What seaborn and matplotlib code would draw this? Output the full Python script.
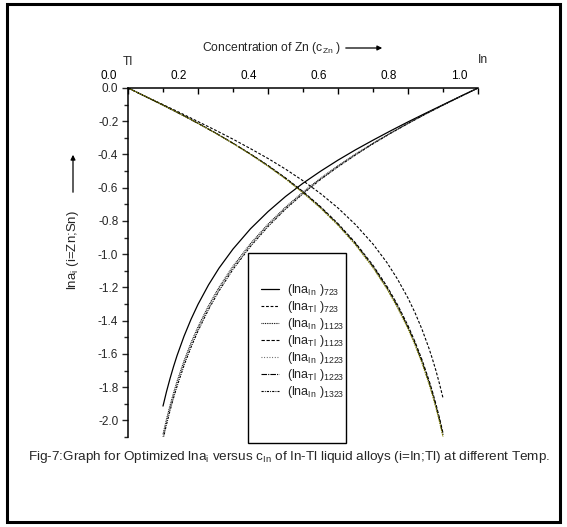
import numpy as np
import pandas as pd
import matplotlib
matplotlib.use("Agg")
import matplotlib.pyplot as plt
import matplotlib.transforms as mtransforms
from matplotlib.patches import Rectangle, FancyArrowPatch
from matplotlib.ticker import MultipleLocator
import seaborn as sns

# ---------------- data ----------------
c_in_In = [0.10, 0.11, 0.12, 0.13, 0.14, 0.16, 0.18, 0.20, 0.23, 0.26, 0.30, 0.35, 0.40,
           0.45, 0.50, 0.55, 0.60, 0.65, 0.70, 0.75, 0.80, 0.85, 0.90, 0.95, 1.00]
lna_In_723 = [-1.914, -1.827, -1.749, -1.677, -1.611, -1.494, -1.392, -1.302, -1.185, -1.084,
              -0.969, -0.847, -0.744, -0.653, -0.573, -0.501, -0.434, -0.372, -0.314, -0.258,
              -0.204, -0.152, -0.101, -0.050, 0.000]
lna_In_1123 = [-2.084, -1.993, -1.911, -1.836, -1.766, -1.642, -1.533, -1.437, -1.310, -1.199,
               -1.072, -0.936, -0.819, -0.717, -0.626, -0.543, -0.468, -0.398, -0.332, -0.271,
               -0.212, -0.156, -0.103, -0.051, 0.000]
lna_In_1223 = [-2.100, -2.009, -1.927, -1.851, -1.781, -1.656, -1.547, -1.449, -1.322, -1.210,
               -1.082, -0.944, -0.826, -0.723, -0.631, -0.547, -0.471, -0.400, -0.334, -0.272,
               -0.213, -0.157, -0.103, -0.051, 0.000]
lna_In_1323 = [-2.116, -2.025, -1.942, -1.866, -1.796, -1.670, -1.560, -1.462, -1.333, -1.221,
               -1.091, -0.953, -0.834, -0.729, -0.636, -0.551, -0.474, -0.403, -0.336, -0.273,
               -0.214, -0.157, -0.103, -0.051, 0.000]

c_in_Tl = [0.00, 0.05, 0.10, 0.15, 0.20, 0.25, 0.30, 0.35, 0.40, 0.45, 0.50, 0.55, 0.60,
           0.65, 0.70, 0.74, 0.77, 0.80, 0.82, 0.84, 0.86, 0.87, 0.88, 0.89, 0.90]
lna_Tl_723 = [0.000, -0.050, -0.100, -0.150, -0.202, -0.254, -0.308, -0.365, -0.424, -0.488,
              -0.558, -0.635, -0.722, -0.822, -0.939, -1.051, -1.150, -1.264, -1.352, -1.452,
              -1.567, -1.632, -1.702, -1.780, -1.865]
lna_Tl_1123 = [0.000, -0.051, -0.103, -0.156, -0.212, -0.270, -0.332, -0.397, -0.466, -0.541,
               -0.623, -0.714, -0.816, -0.932, -1.067, -1.194, -1.304, -1.430, -1.527, -1.635,
               -1.759, -1.828, -1.904, -1.986, -2.076]
lna_Tl_1223 = [0.000, -0.051, -0.103, -0.157, -0.213, -0.271, -0.333, -0.398, -0.468, -0.544,
               -0.627, -0.718, -0.821, -0.938, -1.074, -1.202, -1.313, -1.440, -1.537, -1.646,
               -1.770, -1.840, -1.915, -1.997, -2.088]
lna_Tl_1323 = [0.000, -0.051, -0.103, -0.157, -0.213, -0.272, -0.334, -0.400, -0.471, -0.547,
               -0.631, -0.723, -0.826, -0.944, -1.082, -1.210, -1.322, -1.449, -1.547, -1.656,
               -1.781, -1.851, -1.927, -2.009, -2.100]

x_ticks = [0.0, 0.2, 0.4, 0.6, 0.8, 1.0]
y_ticks = [0.0, -0.2, -0.4, -0.6, -0.8, -1.0, -1.2, -1.4, -1.6, -1.8, -2.0]

legend_labels = [
    r"(lna$_{\mathregular{In}}$ )$_{\mathregular{723}}$",
    r"(lna$_{\mathregular{Tl}}$ )$_{\mathregular{723}}$",
    r"(lna$_{\mathregular{In}}$ )$_{\mathregular{1123}}$",
    r"(lna$_{\mathregular{Tl}}$ )$_{\mathregular{1123}}$",
    r"(lna$_{\mathregular{In}}$ )$_{\mathregular{1223}}$",
    r"(lna$_{\mathregular{Tl}}$ )$_{\mathregular{1223}}$",
    r"(lna$_{\mathregular{In}}$ )$_{\mathregular{1323}}$",
]

# ---------------- style ----------------
sns.set_theme(style="white")
plt.rcParams["font.family"] = ["Liberation Sans Narrow", "Liberation Sans", "DejaVu Sans"]
plt.rcParams["mathtext.fontset"] = "custom"
plt.rcParams["mathtext.rm"] = "Liberation Sans"
plt.rcParams["axes.linewidth"] = 1.1

W, H = 567, 527
fig = plt.figure(figsize=(W / 100, H / 100), dpi=100)
fig.patch.set_facecolor("white")

def fx(px):
    return px / W

def fy(py):
    return 1 - py / H

ax_l, ax_r, ax_t, ax_b = 128, 478, 88, 437
ax = fig.add_axes([fx(ax_l), fy(ax_b), (ax_r - ax_l) / W, (ax_b - ax_t) / H])
ax.set_facecolor("none")

series = [
    (c_in_In, lna_In_723, dict(color="black", linestyle="-", lw=0.9)),
    (c_in_Tl, lna_Tl_723, dict(color="black", linestyle=(0, (2.5, 1.6)), lw=0.8)),
    (c_in_In, lna_In_1123, dict(color="black", linestyle=(0, (0.8, 0.8)), lw=0.8)),
    (c_in_Tl, lna_Tl_1123, dict(color="black", linestyle=(0, (3.0, 1.5)), lw=0.8)),
    (c_in_In, lna_In_1223, dict(color="#555555", linestyle=(0, (0.8, 1.6)), lw=0.8)),
    (c_in_Tl, lna_Tl_1223, dict(color="black", linestyle=(0, (5, 1, 1, 1)), lw=0.8)),
    (c_in_In, lna_In_1323, dict(color="black", linestyle=(0, (2, 1, 0.8, 1)), lw=0.8)),
]
handles = []
for (xs, ys, kw), lab in zip(series, legend_labels):
    df = pd.DataFrame({"c": xs, "lna": ys})
    sns.lineplot(data=df, x="c", y="lna", ax=ax, **kw)
    handles.append(ax.lines[-1])

df_olive = pd.DataFrame({"c": c_in_Tl, "lna": lna_Tl_1323})
sns.lineplot(data=df_olive, x="c", y="lna", ax=ax, color="#7f7f00",
             linestyle=(0, (1.5, 0.8)), lw=0.75)

ax.set_xlim(0, 1.0)
ax.set_ylim(-2.1, 0)
ax.xaxis.tick_top()
ax.set_xticks(x_ticks)
ax.set_xticklabels([f"{v:.1f}" for v in x_ticks])
ax.set_yticks(y_ticks)
ax.set_yticklabels([f"{v:.1f}" for v in y_ticks])
ax.xaxis.set_minor_locator(MultipleLocator(0.1))
ax.yaxis.set_minor_locator(MultipleLocator(0.1))
ax.tick_params(axis="x", which="both", direction="in", top=True, bottom=False,
               labeltop=True, labelbottom=False, width=1.0, colors="black")
ax.tick_params(axis="x", which="major", length=4, pad=4, labelsize=8.5)
ax.tick_params(axis="x", which="minor", length=3)
ax.tick_params(axis="y", which="both", direction="out", left=True, width=1.0)
ax.tick_params(axis="y", which="major", length=4, pad=3, labelsize=8.5)
ax.tick_params(axis="y", which="minor", length=3)
for s in ["right", "bottom"]:
    ax.spines[s].set_visible(False)
for s in ["left", "top"]:
    ax.spines[s].set_color("black")
ax.set_xlabel("")
ax.set_ylabel("")
if ax.get_legend():
    ax.get_legend().remove()

# shift x tick labels to the left like the reference
offset = mtransforms.ScaledTranslation(-19 / 100, 0, fig.dpi_scale_trans)
for lbl in ax.get_xticklabels():
    lbl.set_transform(lbl.get_transform() + offset)

# texts
fig.text(fx(202), fy(48), r"Concentration of Zn (c$_{\mathregular{Zn}}$ )", ha="left", va="center", fontsize=8.7)
fig.patches.append(FancyArrowPatch(
    (fx(343), fy(48)), (fx(385), fy(48)), transform=fig.transFigure,
    arrowstyle="-|>", mutation_scale=7, lw=0.9, color="black"))
fig.text(fx(128), fy(62), "Tl", ha="center", va="center", fontsize=8.7)
fig.text(fx(483), fy(60), "In", ha="center", va="center", fontsize=8.7)

fig.text(fx(73), fy(250), r"lna$_{\mathregular{i}}$ (i=Zn;Sn)", ha="center", va="center",
         rotation=90, fontsize=9.5)
fig.patches.append(FancyArrowPatch(
    (fx(73), fy(195)), (fx(73), fy(152)), transform=fig.transFigure,
    arrowstyle="-|>", mutation_scale=7, lw=0.9, color="black"))

fig.text(fx(289), fy(457),
         r"Fig-7:Graph for Optimized lna$_{\mathregular{i}}$ versus c$_{\mathregular{In}}$ of In-Tl liquid alloys (i=In;Tl) at different Temp.",
         ha="center", va="center", fontsize=9.7)

# legend box and legend
fig.patches.append(Rectangle((fx(248), fy(443)), (346 - 248) / W, (443 - 253) / H,
                             transform=fig.transFigure, fill=False, lw=1.0, ec="black"))
leg = fig.legend(handles, legend_labels, loc="upper left",
                 bbox_to_anchor=(fx(261), fy(282)), frameon=False, fontsize=9,
                 handlelength=1.45, handletextpad=0.6, labelspacing=0.08, borderpad=0,
                 borderaxespad=0)

# outer frame
fig.patches.append(Rectangle((fx(7), fy(522)), (560 - 7) / W, (522 - 4) / H,
                             transform=fig.transFigure, fill=False, lw=2.2, ec="black"))

fig.savefig("out.png", dpi=100)
